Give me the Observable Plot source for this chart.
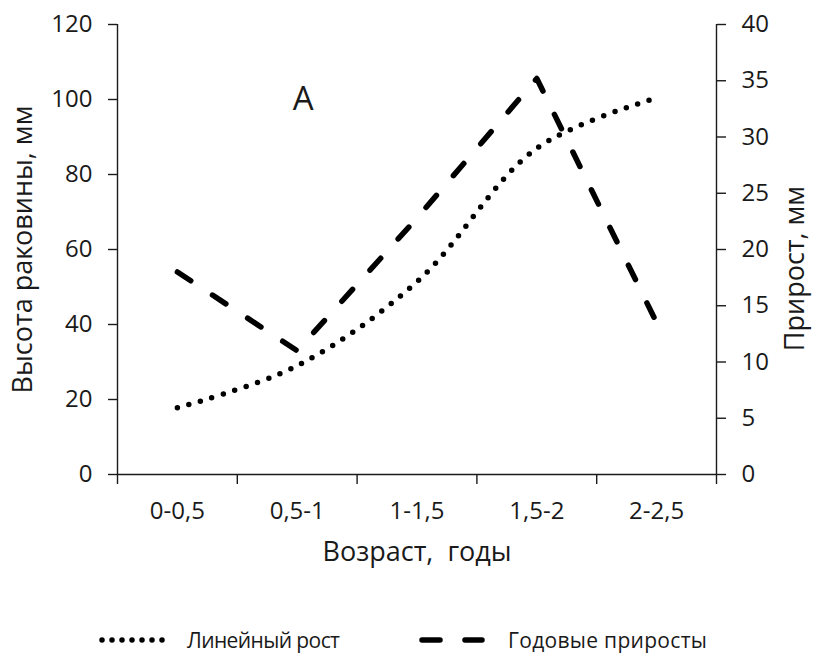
<!DOCTYPE html>
<html>
<head>
<meta charset="utf-8">
<script src="https://cdn.jsdelivr.net/npm/d3@7"></script>
<script src="https://cdn.jsdelivr.net/npm/@observablehq/plot@0.6"></script>
<style>
  html, body { margin: 0; padding: 0; background: #fff; }
  #wrap { position: relative; width: 816px; height: 659px; font-family: "Open Sans", sans-serif; color: #1a1a1a; }
  #chart svg [aria-label$="tick label"] { font-size: 24px !important; }
  #legend { position: absolute; left: 0; top: 590px; width: 816px; height: 69px; }
  .item { position: absolute; top: 36px; height: 28px; display: flex; align-items: center; font-size: 21px; white-space: pre; }
  .item svg { display: block; }
</style>
</head>
<body>
<div id="wrap">
  <div id="chart"></div>
  <div id="legend"></div>
</div>
<script>
// ---- data ----
const categories = ["0-0,5", "0,5-1", "1-1,5", "1,5-2", "2-2,5"];
const shellHeight = [17.8, 29, 51.4, 87, 100.4];     // Линейный рост, left axis (мм)
const annualGrowth = [18, 11, 22.8, 35.2, 13.5];    // Годовые приросты, right axis (мм)
const leftTicks = [0, 20, 40, 60, 80, 100, 120];
const rightTicks = [0, 5, 10, 15, 20, 25, 30, 35, 40];
const seriesNames = ["Линейный рост", "Годовые приросты"];
const panelLabel = [{text: "A", x: 1.55, y: 100}];

const leftMax = 120, rightMax = 40, ratio = leftMax / rightMax;

const heightData = categories.map((c, i) => ({x: i + 0.5, y: shellHeight[i]}));
const growthData = categories.map((c, i) => ({x: i + 0.5, y: annualGrowth[i] * ratio}));

const ink = "#1a1a1a";
const dotted = {stroke: "black", strokeWidth: 5.5, strokeDasharray: "0,12", strokeLinecap: "round"};
const dashed = {stroke: "black", strokeWidth: 5.5, strokeDasharray: "16,26", strokeLinecap: "round"};

const chart = Plot.plot({
  width: 816,
  height: 590,
  marginTop: 24,
  marginBottom: 116,
  marginLeft: 117,
  marginRight: 100,
  x: {domain: [0, categories.length]},
  y: {domain: [0, leftMax]},
  style: {fontFamily: "Open Sans, sans-serif", fontSize: "24px", color: ink, background: "white"},
  marks: [
    Plot.ruleX([0, categories.length], {stroke: ink, strokeWidth: 1.4}),
    Plot.ruleY([0], {stroke: ink, strokeWidth: 1.4}),
    Plot.axisX({ticks: d3.range(0, categories.length + 1), tickSize: 10, tickFormat: () => "", label: null, strokeWidth: 1.4}),
    Plot.axisX({ticks: categories.map((c, i) => i + 0.5), tickSize: 0, tickPadding: 27, fontSize: 24,
                tickFormat: d => categories[Math.floor(d)], label: null}),
    Plot.axisY({anchor: "left", ticks: leftTicks, tickSize: 9, tickPadding: 16, label: null, strokeWidth: 1.4, fontSize: 24}),
    Plot.axisY({anchor: "right", ticks: rightTicks.map(v => v * ratio), tickFormat: d => String(Math.round(d / ratio)),
                tickSize: 9, tickPadding: 16, label: null, strokeWidth: 1.4, fontSize: 24}),
    Plot.text(["Высота раковины, мм"], {frameAnchor: "left", textAnchor: "middle", rotate: -90, dx: -94, fontSize: 27, fill: ink}),
    Plot.text(["Прирост, мм"], {frameAnchor: "right", textAnchor: "middle", rotate: -90, dx: 79, dy: 19, fontSize: 27, fill: ink}),
    Plot.text(["Возраст,\u00a0 годы"], {frameAnchor: "bottom", textAnchor: "middle", dy: 86, fontSize: 27, fill: ink}),
    Plot.line(heightData, {x: "x", y: "y", curve: "catmull-rom", ...dotted}),
    Plot.line(growthData, {x: "x", y: "y", ...dashed}),
    Plot.text(panelLabel, {x: "x", y: "y", text: "text", fontSize: 33, fill: ink})
  ]
});
document.getElementById("chart").appendChild(chart);

// ---- legend ----
const legend = document.getElementById("legend");
const items = [
  {name: seriesNames[0], left: 98, w: 78, dash: "0,10", gap: 11, spacing: "-0.6px"},
  {name: seriesNames[1], left: 418, w: 68, dash: "18,25", gap: 22, spacing: "0.3px"}
];
items.forEach(it => {
  const div = document.createElement("div");
  div.className = "item";
  div.style.left = it.left + "px";
  const svg = d3.create("svg").attr("width", it.w).attr("height", 28);
  svg.append("line").attr("x1", 4).attr("x2", it.w - 4).attr("y1", 14).attr("y2", 14)
    .attr("stroke", "black").attr("stroke-width", 5.5).attr("stroke-linecap", "round")
    .attr("stroke-dasharray", it.dash);
  div.appendChild(svg.node());
  const span = document.createElement("span");
  span.textContent = it.name;
  span.style.marginLeft = it.gap + "px";
  span.style.letterSpacing = it.spacing;
  div.appendChild(span);
  legend.appendChild(div);
});
</script>
</body>
</html>
